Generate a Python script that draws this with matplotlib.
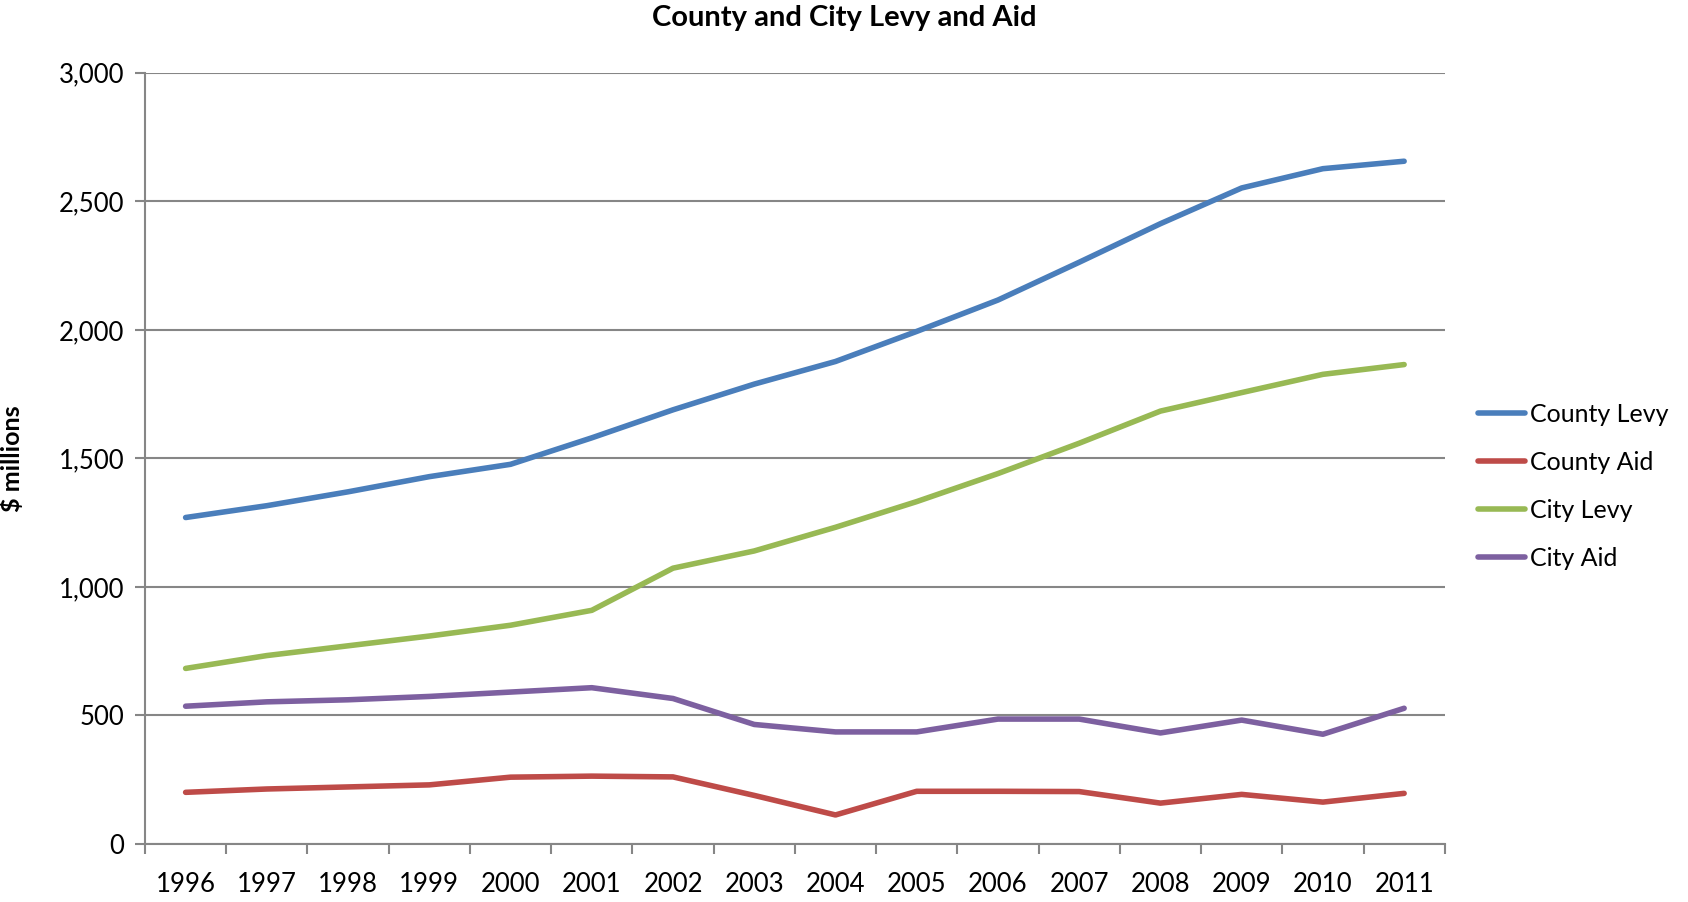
import numpy as np
import matplotlib
matplotlib.use("Agg")
import matplotlib.pyplot as plt
from matplotlib.ticker import FuncFormatter

# ---------------------------------------------------------------------------
# 데이터 ($ millions)
# ---------------------------------------------------------------------------
years = [str(y) for y in range(1996, 2012)]

county_levy = [1270, 1316, 1370, 1429, 1477, 1580, 1689, 1789, 1877, 1994,
               2116, 2263, 2413, 2552, 2627, 2656]
county_aid  = [201, 214, 222, 230, 260, 264, 261, 189, 113, 205,
               205, 204, 159, 193, 163, 197]
city_levy   = [683, 733, 771, 809, 851, 909, 1073, 1140, 1232, 1332,
               1441, 1559, 1684, 1756, 1827, 1865]
city_aid    = [536, 553, 561, 574, 591, 608, 566, 465, 436, 436,
               486, 486, 432, 482, 427, 528]

series = [
    ("County Levy", county_levy, "#4a7ebb"),
    ("County Aid",  county_aid,  "#be4b48"),
    ("City Levy",   city_levy,   "#98b954"),
    ("City Aid",    city_aid,    "#7d60a0"),
]

plt.rcParams['font.family'] = ['Lato', 'DejaVu Sans']

fig = plt.figure(figsize=(16.88, 9.02), dpi=100)
ax = fig.add_axes([0.0859, 0.0643, 0.77, 0.855])

x = np.arange(len(years))
for label, vals, color in series:
    ax.plot(x, vals, color=color, lw=4, label=label, solid_capstyle='round',
            solid_joinstyle='round')

ax.set_xlim(-0.5, len(years) - 0.5)
ax.set_ylim(0, 3000)
ax.set_yticks(np.arange(0, 3001, 500))
ax.yaxis.set_major_formatter(FuncFormatter(lambda v, p: f"{int(v):,}"))
ax.grid(axis='y', color='#868686', lw=1.5)
ax.set_axisbelow(True)

ax.set_xticks(x)
ax.set_xticklabels(years)
ax.set_xticks(np.arange(-0.5, len(years), 1), minor=True)
ax.tick_params(axis='x', which='major', length=0, pad=20, labelsize=18.5)
ax.tick_params(axis='x', which='minor', length=7, width=1.5, color='#868686')
ax.tick_params(axis='y', length=7, width=1.5, color='#868686', labelsize=18.5, pad=8)

for side in ['top', 'right']:
    ax.spines[side].set_visible(False)
for side in ['left', 'bottom']:
    ax.spines[side].set_color('#868686')
    ax.spines[side].set_linewidth(1.5)

ax.set_ylabel(r"\$ millions", fontsize=18, fontweight='bold')
ax.yaxis.set_label_coords(-0.093, 0.5)
fig.suptitle("County and City Levy and Aid", fontsize=21, fontweight='bold', y=0.995)

ax.legend(loc='center left', bbox_to_anchor=(1.012, 0.464), frameon=False,
          fontsize=18, handlelength=1.9, labelspacing=1.0, handletextpad=0.2,
          borderaxespad=0.3)

fig.savefig("out.png", dpi=100)
